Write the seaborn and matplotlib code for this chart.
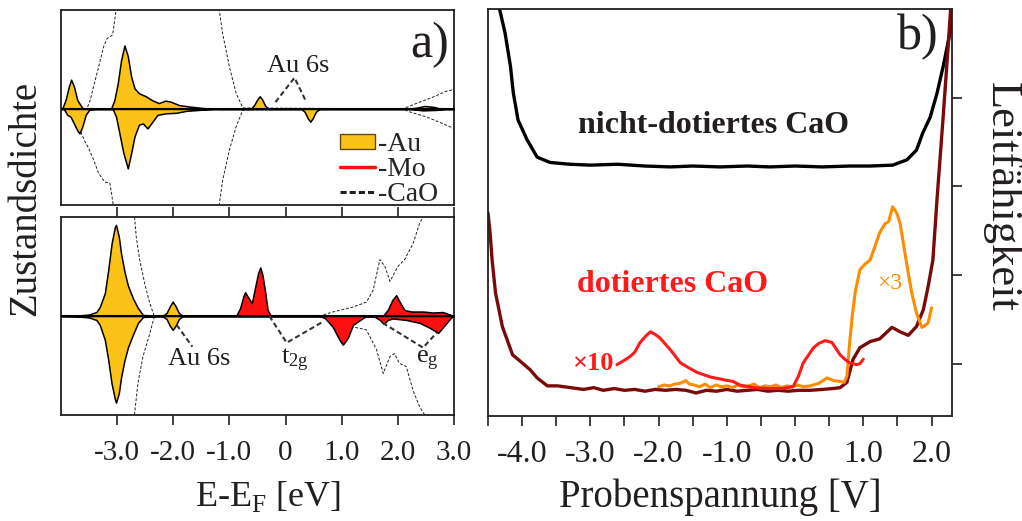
import matplotlib
matplotlib.use('Agg')
import matplotlib.pyplot as plt
import seaborn as sns
from matplotlib.patches import Patch
from matplotlib.lines import Line2D

# ---------------- data: left panels (DOS, spin up > 0, spin down < 0) ----------------
au_top_up_e = [-4.0, -3.98, -3.92, -3.86, -3.82, -3.77, -3.71, -3.62, -3.5, -3.11, -3.05, -2.99, -2.93, -2.87,
               -2.81, -2.75, -2.69, -2.61, -2.49, -2.38, -2.26, -2.14, -2.05, -1.90, -1.72, -1.43, -1.19, -0.62,
               -0.56, -0.50, -0.46, -0.42, -0.36, -0.30, 2.15, 2.3, 2.48, 2.65, 2.78, 3.0]
au_top_up_h = [0, 0, 0.09, 0.23, 0.30, 0.23, 0.09, 0.01, 0, 0, 0.09, 0.26, 0.50, 0.65,
               0.54, 0.33, 0.21, 0.16, 0.13, 0.09, 0.06, 0.085, 0.075, 0.04, 0.025, 0.007, 0, 0,
               0.04, 0.10, 0.13, 0.10, 0.03, 0, 0, 0.01, 0.03, 0.02, 0, 0]
au_top_dn_e = [-4.0, -3.95, -3.89, -3.83, -3.77, -3.71, -3.67, -3.62, -3.56, -3.50, -3.4, -3.08, -3.02, -2.96,
               -2.89, -2.81, -2.75, -2.69, -2.61, -2.54, -2.46, -2.37, -2.28, -2.13, -1.95, -1.77, -1.54, -1.24,
               0.28, 0.34, 0.40, 0.44, 0.48, 0.54, 0.60, 2.2, 2.45, 2.7, 2.85, 3.0]
au_top_dn_h = [0, 0, -0.06, -0.08, -0.15, -0.22, -0.25, -0.18, -0.06, -0.01, 0, 0, -0.08, -0.25,
               -0.45, -0.61, -0.45, -0.28, -0.16, -0.15, -0.20, -0.13, -0.06, -0.045, -0.04, -0.02, -0.01, 0,
               0, -0.03, -0.10, -0.13, -0.10, -0.03, 0, 0, -0.015, -0.01, 0, 0]

cao_top_up_e = [-4.0, -3.54, -3.48, -3.42, -3.33, -3.24, -3.18, -3.08, -3.05, -3.02, -2.98, -1.22, -1.18,
                -1.12, -1.0, -0.88, -0.76, 2.09, 2.26, 2.39, 2.62, 2.86, 3.0]
cao_top_up_h = [0, 0, 0.09, 0.23, 0.43, 0.64, 0.72, 0.76, 0.88, 1.01, 1.5, 1.5, 1.01,
                0.77, 0.43, 0.16, 0.01, 0, 0.04, 0.07, 0.12, 0.18, 0.2]
cao_top_dn_e = [-4.0, -3.72, -3.66, -3.57, -3.51, -3.42, -3.33, -3.22, -3.13, -3.10, -3.07, -3.03, -1.22,
                -1.18, -1.12, -1.0, -0.88, -0.76, 2.09, 2.21, 2.5, 2.8, 3.0]
cao_top_dn_h = [0, -0.02, -0.22, -0.34, -0.40, -0.52, -0.66, -0.75, -0.76, -0.87, -0.98, -1.5, -1.5,
                -0.98, -0.73, -0.42, -0.18, -0.01, 0, -0.03, -0.08, -0.15, -0.2]

au_bot_e = [-4.0, -3.7, -3.5, -3.37, -3.31, -3.22, -3.16, -3.10, -3.04, -3.02, -2.97, -2.93, -2.87,
            -2.81, -2.72, -2.63, -2.54, -2.2, -2.12, -2.06, -2.01, -1.96, -1.90, -1.83, 3.0]
au_bot_up_h = [0, 0.005, 0.015, 0.04, 0.09, 0.23, 0.46, 0.73, 0.90, 0.92, 0.80, 0.63, 0.45,
               0.31, 0.18, 0.08, 0.01, 0, 0.03, 0.10, 0.145, 0.10, 0.03, 0, 0]
au_bot_dn_h = [0, -0.005, -0.015, -0.04, -0.09, -0.24, -0.44, -0.68, -0.84, -0.875, -0.78, -0.62, -0.45,
               -0.32, -0.19, -0.07, -0.01, 0, -0.03, -0.10, -0.14, -0.10, -0.03, 0, 0]

mo_up_e = [-0.88, -0.81, -0.75, -0.72, -0.67, -0.60, -0.55, -0.49, -0.45, -0.41, -0.36, -0.32, -0.26,
           1.73, 1.82, 1.90, 1.97, 2.03, 2.12, 2.24, 2.45, 2.62, 2.80, 2.95, 3.0]
mo_up_h = [0, 0.08, 0.20, 0.24, 0.19, 0.13, 0.27, 0.43, 0.49, 0.41, 0.23, 0.06, 0,
           0, 0.06, 0.16, 0.21, 0.145, 0.06, 0.045, 0.045, 0.035, 0.04, 0.01, 0]
mo_dn_e = [0.60, 0.70, 0.84, 0.96, 1.02, 1.11, 1.20, 1.38, 1.45, 1.56, 1.68, 1.75, 1.82, 1.91, 2.15,
           2.39, 2.57, 2.72, 2.84, 2.95, 3.0]
mo_dn_h = [0, -0.02, -0.11, -0.24, -0.29, -0.22, -0.09, -0.02, 0, 0, -0.04, -0.08, -0.04, -0.025, -0.04,
           -0.07, -0.12, -0.17, -0.09, -0.015, 0]

cao_bot_up_e = [-4.0, -2.72, -2.69, -2.66, -2.60, -2.51, -2.42, -2.34, 0.61, 0.84, 1.20, 1.44, 1.56, 1.68,
                1.77, 1.86, 2.0, 2.12, 2.27, 2.39, 2.45, 2.5, 3.0]
cao_bot_up_h = [1.5, 1.5, 1.0, 0.80, 0.57, 0.33, 0.13, 0, 0, 0.04, 0.09, 0.14, 0.26, 0.57,
                0.50, 0.35, 0.50, 0.57, 0.73, 0.94, 1.0, 1.5, 1.5]
cao_bot_dn_e = [-4.0, -2.72, -2.69, -2.63, -2.54, -2.42, -2.34, 0.61, 0.84, 1.20, 1.44, 1.62, 1.74, 1.86,
                1.94, 2.03, 2.15, 2.27, 2.39, 2.48, 2.53, 3.0]
cao_bot_dn_h = [-1.5, -1.5, -0.99, -0.68, -0.41, -0.18, -0.01, 0, -0.06, -0.11, -0.14, -0.34, -0.58, -0.41,
                -0.38, -0.48, -0.51, -0.75, -0.92, -1.0, -1.5, -1.5]

e_ticks = [-3, -2, -1, 0, 1, 2, 3]
e_ticklabels = ['-3.0', '-2.0', '-1.0', '0', '1.0', '2.0', '3.0']

# connector lines of the labels (E, DOS)
au6s_top_x = [-0.18, 0.16, 0.37]
au6s_top_y = [0.07, 0.32, 0.07]
au6s_bot_x = [-1.94, -1.66]
au6s_bot_y = [-0.09, -0.31]
t2g_x = [-0.29, 0.02, 0.66]
t2g_y = [0.0, -0.27, -0.06]
eg_x = [1.73, 2.45, 2.69]
eg_y = [-0.07, -0.32, -0.17]

# ---------------- data: right panel (STS) ----------------
v_undoped = [-4.33, -4.25, -4.17, -4.13, -4.06, -3.93, -3.78, -3.59, -3.3, -3.0, -2.6, -2.2, -1.83, -1.5,
             -1.1, -0.7, -0.37, 0.0, 0.4, 0.8, 1.1, 1.43, 1.64, 1.78, 1.87, 1.98, 2.08, 2.17, 2.27, 2.31]
g_undoped = [5.0, 4.73, 4.35, 4.06, 3.75, 3.53, 3.33, 3.27, 3.25, 3.24, 3.25, 3.23, 3.22, 3.23,
             3.22, 3.23, 3.22, 3.23, 3.22, 3.23, 3.23, 3.24, 3.30, 3.41, 3.60, 3.78, 4.05, 4.35, 4.73, 4.91]

v_doped = [-4.5, -4.47, -4.44, -4.39, -4.29, -4.14, -4.0, -3.88, -3.78, -3.63, -3.48, -3.29, -3.1, -2.95,
           -2.81, -2.65, -2.5, -2.35, -2.2, -2.05, -1.9, -1.75, -1.6, -1.45, -1.3, -1.15, -1.0, -0.85, -0.7,
           -0.55, -0.4, -0.25, -0.1, 0.05, 0.22, 0.4, 0.55, 0.66, 0.76, 0.85, 0.95, 1.10, 1.24, 1.42, 1.54,
           1.66, 1.78, 1.88, 1.95, 2.02, 2.08, 2.17, 2.24, 2.28]
g_doped = [2.70, 2.48, 2.17, 1.80, 1.42, 1.10, 1.01, 0.93, 0.84, 0.75, 0.75, 0.73, 0.71, 0.73,
           0.70, 0.72, 0.70, 0.71, 0.69, 0.71, 0.70, 0.71, 0.70, 0.67, 0.70, 0.69, 0.71, 0.69, 0.70,
           0.71, 0.69, 0.70, 0.69, 0.70, 0.70, 0.71, 0.72, 0.73, 0.79, 1.05, 1.18, 1.25, 1.28, 1.41, 1.36,
           1.32, 1.42, 1.61, 1.87, 2.17, 2.85, 3.78, 4.54, 5.0]

v_x10 = [-2.61, -2.52, -2.42, -2.35, -2.27, -2.19, -2.12, -2.05, -1.98, -1.90, -1.83, -1.75, -1.68, -1.55,
         -1.43, -1.24, -1.05, -0.91, -0.81, -0.61, -0.4, -0.2, -0.03, 0.05, 0.12, 0.2, 0.27, 0.35, 0.44,
         0.54, 0.60, 0.66, 0.73, 0.80, 0.90, 0.95, 1.0]
g_x10 = [0.99, 1.03, 1.08, 1.13, 1.24, 1.31, 1.36, 1.33, 1.29, 1.22, 1.16, 1.08, 1.01, 0.95,
         0.90, 0.85, 0.82, 0.80, 0.76, 0.73, 0.72, 0.72, 0.74, 0.86, 1.01, 1.10, 1.18, 1.23, 1.26,
         1.24, 1.17, 1.10, 1.05, 1.01, 0.99, 1.00, 1.05]

v_x3 = [-2.0, -1.92, -1.84, -1.76, -1.68, -1.6, -1.55, -1.48, -1.4, -1.32, -1.24, -1.16, -1.08, -1.0,
        -0.92, -0.84, -0.76, -0.68, -0.6, -0.52, -0.44, -0.36, -0.28, -0.2, -0.12, -0.04, 0.04, 0.12,
        0.22, 0.35, 0.47, 0.56, 0.66, 0.72, 0.76, 0.80, 0.84, 0.88, 0.95, 1.02, 1.10, 1.17, 1.24, 1.32,
        1.37, 1.43, 1.49, 1.54, 1.61, 1.66, 1.71, 1.78, 1.86, 1.90, 1.95, 2.0]
g_x3 = [0.74, 0.76, 0.75, 0.77, 0.78, 0.81, 0.77, 0.76, 0.74, 0.77, 0.73, 0.76, 0.74, 0.75,
        0.73, 0.76, 0.74, 0.75, 0.77, 0.73, 0.75, 0.74, 0.76, 0.73, 0.75, 0.74, 0.76, 0.74,
        0.75, 0.78, 0.84, 0.81, 0.80, 0.79, 0.86, 1.24, 1.55, 1.80, 2.06, 2.12, 2.17, 2.32, 2.48, 2.58,
        2.60, 2.77, 2.70, 2.58, 2.25, 2.02, 1.80, 1.57, 1.41, 1.43, 1.46, 1.63]
v_ticks = [-4, -3, -2, -1, 0, 1, 2]
v_ticklabels = ['-4.0', '-3.0', '-2.0', '-1.0', '0.0', '1.0', '2.0']

# ---------------- style ----------------
sns.set_theme(style='white')
plt.rcParams['font.family'] = ['Liberation Serif', 'DejaVu Serif']
plt.rcParams['mathtext.fontset'] = 'custom'
plt.rcParams['mathtext.rm'] = 'Liberation Serif'
plt.rcParams['axes.unicode_minus'] = False
ink = '#231f20'
gold = '#fbc218'
mo_red = '#ff1010'
dark_red = '#7a0a0a'
orange = '#ff8c00'

fig = plt.figure(figsize=(10.22, 5.21), dpi=100)
ax_top = fig.add_axes([0.0597, 0.6065, 0.3845, 0.3745])
ax_bot = fig.add_axes([0.0597, 0.2035, 0.3845, 0.380])
ax_r = fig.add_axes([0.4775, 0.2015, 0.454, 0.781])

for ax in (ax_top, ax_bot, ax_r):
    for s in ax.spines.values():
        s.set_color(ink)
        s.set_linewidth(1.3)

dash = (0, (3, 1.8))

# top-left panel
ax = ax_top
ax.fill_between(au_top_up_e, au_top_up_h, 0, facecolor=gold, edgecolor='black', lw=1.1, zorder=3)
ax.fill_between(au_top_dn_e, au_top_dn_h, 0, facecolor=gold, edgecolor='black', lw=1.1, zorder=3)
sns.lineplot(x=cao_top_up_e, y=cao_top_up_h, ax=ax, color=ink, lw=0.7, linestyle=dash, estimator=None, sort=False)
sns.lineplot(x=cao_top_dn_e, y=cao_top_dn_h, ax=ax, color=ink, lw=0.7, linestyle=dash, estimator=None, sort=False)
ax.axhline(0, color='black', lw=1.5, zorder=4)
ax.plot(au6s_top_x, au6s_top_y, color='#333333', lw=1.5, linestyle=(0, (2.5, 1.5)))
ax.text(0.22, 0.44, 'Au 6s', fontsize=19, color=ink, ha='center', va='center')
ax.text(2.57, 0.66, 'a)', fontsize=36, color=ink, ha='center', va='center')
handles = [Patch(facecolor=gold, edgecolor='#5a4a10', lw=1.0),
           Line2D([0], [0], color=mo_red, lw=2.5),
           Line2D([0], [0], color=ink, lw=2.2, linestyle=(0, (2, 1)))]
ax.legend(handles, ['-Au', '-Mo', '-CaO'], loc='lower right', bbox_to_anchor=(1.01, -0.11), frameon=False,
          fontsize=20, handlelength=1.25, handleheight=0.45, handletextpad=0.12, labelspacing=0.0,
          borderpad=0.2)
ax.set_xlim(-4, 3)
ax.set_ylim(-0.985, 1.015)
ax.set_xticks([])
ax.set_yticks([])

# bottom-left panel
ax = ax_bot
ax.fill_between(au_bot_e, au_bot_up_h, 0, facecolor=gold, edgecolor='black', lw=1.1, zorder=3)
ax.fill_between(au_bot_e, au_bot_dn_h, 0, facecolor=gold, edgecolor='black', lw=1.1, zorder=3)
ax.fill_between(mo_up_e, mo_up_h, 0, facecolor=mo_red, edgecolor='black', lw=1.1, zorder=3)
ax.fill_between(mo_dn_e, mo_dn_h, 0, facecolor=mo_red, edgecolor='black', lw=1.1, zorder=3)
sns.lineplot(x=cao_bot_up_e, y=cao_bot_up_h, ax=ax, color=ink, lw=0.7, linestyle=dash, estimator=None, sort=False)
sns.lineplot(x=cao_bot_dn_e, y=cao_bot_dn_h, ax=ax, color=ink, lw=0.7, linestyle=dash, estimator=None, sort=False)
ax.axhline(0, color='black', lw=1.5, zorder=4)
for xs, ys in ((au6s_bot_x, au6s_bot_y), (t2g_x, t2g_y), (eg_x, eg_y)):
    ax.plot(xs, ys, color='#333333', lw=1.5, linestyle=(0, (2.5, 1.5)), zorder=5)
ax.text(-1.53, -0.43, 'Au 6s', fontsize=19, color=ink, ha='center', va='center')
ax.text(0.16, -0.45, r'$\mathrm{t_{2g}}$', fontsize=19, color=ink, ha='center', va='center')
ax.text(2.53, -0.45, r'$\mathrm{e_{g}}$', fontsize=19, color=ink, ha='center', va='center')
ax.set_xlim(-4, 3)
ax.set_ylim(-1, 1)
ax.set_yticks([])
ax.set_xticks(e_ticks)
ax.set_xticklabels(e_ticklabels)
ax.tick_params(axis='x', which='both', direction='out', length=7, width=1.2, color=ink,
               top=True, bottom=True, labelsize=21, labelcolor=ink, pad=11)

# right panel
ax = ax_r
sns.lineplot(x=v_undoped, y=g_undoped, ax=ax, color='black', lw=2.4, estimator=None, sort=False)
sns.lineplot(x=v_doped, y=g_doped, ax=ax, color=dark_red, lw=2.4, estimator=None, sort=False)
sns.lineplot(x=v_x3, y=g_x3, ax=ax, color=orange, lw=2.2, estimator=None, sort=False)
sns.lineplot(x=v_x10, y=g_x10, ax=ax, color='#ff1a1a', lw=2.2, estimator=None, sort=False)
ax.text(-1.2, 3.69, 'nicht-dotiertes CaO', fontsize=23, fontweight='bold', color=ink, ha='center', va='center')
ax.text(-1.79, 1.89, 'dotiertes CaO', fontsize=23, fontweight='bold', color='#ff1a1a', ha='center', va='center')
ax.text(-2.97, 1.0, '×10', fontsize=19, fontweight='bold', color='#ff1a1a', ha='center', va='center')
ax.text(1.39, 1.91, '×3', fontsize=17, color=orange, ha='center', va='center')
ax.text(1.80, 4.69, 'b)', fontsize=36, color=ink, ha='center', va='center')
ax.set_xlim(-4.5, 2.3)
ax.set_ylim(0.41, 5.0)
ax.set_xticks(v_ticks)
ax.set_xticklabels(v_ticklabels)
ax.set_xticks([-4.5, -3.5, -2.5, -1.5, -0.5, 0.5, 1.5], minor=True)
ax.set_yticks([1, 2, 3, 4])
ax.tick_params(axis='x', which='both', direction='out', length=7, width=1.2, color=ink,
               bottom=True, top=False, labelsize=23, labelcolor=ink, pad=10)
ax.tick_params(axis='y', which='both', direction='out', length=7, width=1.2, color=ink,
               left=False, right=True, labelleft=False, labelright=False)
ax.set_xlabel('')
ax.set_ylabel('')

fig.text(268 / 1022, 1 - 497 / 521, r'E-E$_\mathrm{F}$ [eV]', fontsize=26, color=ink, ha='center', va='center')
fig.text(720 / 1022, 1 - 497 / 521, 'Probenspannung [V]', fontsize=28, color=ink, ha='center', va='center')
fig.text(26 / 1022, 1 - 198 / 521, 'Zustandsdichte', fontsize=28, color=ink, rotation=90, ha='center', va='center')
fig.text(1002 / 1022, 1 - 197 / 521, 'Leitfähigkeit', fontsize=32, color=ink, rotation=270, ha='center', va='center')

fig.savefig('out.png', dpi=100)
